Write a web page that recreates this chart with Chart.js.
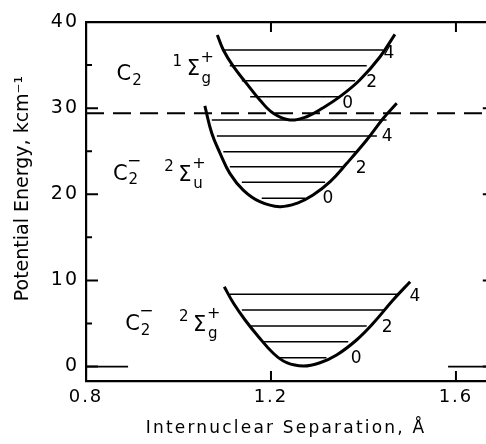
<!DOCTYPE html>
<html><head><meta charset="utf-8">
<script src="https://cdn.jsdelivr.net/npm/chart.js@4/dist/chart.umd.min.js"></script>
<style>html,body{margin:0;padding:0;background:#fff;}#wrap{width:486px;height:444px;}</style>
</head><body><div id="wrap"><canvas id="c" width="486" height="444"></canvas></div>
<script>
// ---------------- data ----------------
const xTicks = [0.8, 1.2, 1.6];
const xTickLabels = ['0.8', '1.2', '1.6'];
const yTicks = [0, 10, 20, 30, 40];
const yTickLabels = ['0', '10', '20', '30', '40'];
const yMinorTicks = [5, 15, 25, 35];
const xVisibleMax = 1.665;   // right edge of the picture
const xFrameMax = 1.684;     // right frame of the plot (just outside the picture)

// C2  X 1Σg+  potential curve (R in Å, E in kcm-1)
const c2R = [1.084, 1.097, 1.119, 1.147, 1.176, 1.205, 1.241, 1.277, 1.313, 1.349, 1.392, 1.436, 1.468];
const c2E = [38.49, 36.75, 34.81, 32.88, 30.94, 29.40, 28.62, 29.00, 30.05, 31.33, 33.27, 35.97, 38.57];
const c2LevelE    = [31.33, 33.18, 34.93, 36.75];
const c2LevelRmin = [1.155, 1.137, 1.111, 1.097];
const c2LevelRmax = [1.349, 1.382, 1.407, 1.443];
const c2ThresholdE = 29.4;   // v=0 of C2, dashed

// C2-  2Σu+  potential curve
const c2uR = [1.057, 1.072, 1.090, 1.111, 1.140, 1.176, 1.219, 1.256, 1.291, 1.328, 1.364, 1.407, 1.443, 1.472];
const c2uE = [30.25, 27.08, 24.76, 22.43, 20.49, 19.14, 18.56, 18.95, 19.91, 21.46, 23.59, 26.30, 28.82, 30.56];
const c2uLevelE    = [19.53, 21.39, 23.20, 24.94, 26.76, 28.62];
const c2uLevelRmin = [1.180, 1.137, 1.111, 1.097, 1.083, 1.072];
const c2uLevelRmax = [1.274, 1.317, 1.356, 1.385, 1.429, 1.450];

// C2-  2Σg+  potential curve
const c2gR = [1.099, 1.119, 1.144, 1.173, 1.205, 1.234, 1.270, 1.306, 1.342, 1.385, 1.421, 1.464, 1.501];
const c2gE = [9.27, 7.34, 5.40, 3.46, 1.54, 0.44, 0.06, 0.44, 1.34, 3.08, 5.02, 7.72, 9.85];
const c2gLevelE    = [1.02, 2.88, 4.71, 6.56, 8.38];
const c2gLevelRmin = [1.219, 1.183, 1.155, 1.137, 1.111];
const c2gLevelRmax = [1.320, 1.367, 1.407, 1.446, 1.479];

// zero-energy reference stubs
const zeroLeftR  = [0.800, 0.891];
const zeroRightR = [1.583, 1.684];
const zeroE = 0;

// text labels
const vibLabelText = ['4', '2', '0', '4', '2', '0', '4', '2', '0'];
const vibLabelR    = [1.455, 1.418, 1.366, 1.451, 1.395, 1.323, 1.511, 1.451, 1.384];
const vibLabelE    = [36.28, 32.92, 30.48, 26.65, 22.93, 19.45, 8.07, 4.47, 0.87];

const speciesSub  = ['2', '2', '2'];
const speciesSup  = ['', '\u2212', '\u2212'];
const speciesR    = [0.882, 0.874, 0.9005];
const speciesE    = [33.85, 22.29, 4.82];

const termMult = ['1', '2', '2'];
const termSub  = ['g', 'u', 'g'];
const termR    = [1.032, 1.014, 1.046];
const termE    = [34.43, 22.18, 4.76];

// ---------------- build datasets ----------------
const BLACK = '#000';
function curve(R, E) {
  return { data: R.map((r, i) => ({x: r, y: E[i]})), showLine: true, pointRadius: 0,
    borderColor: BLACK, borderWidth: 3, tension: 0.4, fill: false };
}
function levels(Ev, Rmin, Rmax) {
  return Ev.map((e, i) => ({ data: [{x: Rmin[i], y: e}, {x: Rmax[i], y: e}], showLine: true,
    pointRadius: 0, borderColor: BLACK, borderWidth: 1.5 }));
}
const datasets = [
  ...levels(c2LevelE, c2LevelRmin, c2LevelRmax),
  ...levels(c2uLevelE, c2uLevelRmin, c2uLevelRmax),
  ...levels(c2gLevelE, c2gLevelRmin, c2gLevelRmax),
  { data: [{x: xTicks[0], y: c2ThresholdE}, {x: xFrameMax, y: c2ThresholdE}], showLine: true,
    pointRadius: 0, borderColor: BLACK, borderWidth: 2, borderDash: [18, 9] },
  { data: zeroLeftR.map(r => ({x: r, y: zeroE})), showLine: true, pointRadius: 0, borderColor: BLACK, borderWidth: 1.7 },
  { data: zeroRightR.map(r => ({x: r, y: zeroE})), showLine: true, pointRadius: 0, borderColor: BLACK, borderWidth: 1.7 },
  curve(c2R, c2E), curve(c2uR, c2uE), curve(c2gR, c2gE)
];

// ---------------- plugins ----------------
function wrap(scale, method, px, dy) {
  const cur = scale[method];
  if (cur && cur._wrapped) return;
  const fn = function (...args) {
    const ctx = this.ctx; ctx.save(); ctx.letterSpacing = px + 'px';
    if (dy) ctx.translate(0, dy);
    const r = cur.apply(this, args); ctx.restore(); return r;
  };
  fn._wrapped = true;
  scale[method] = fn;
}
const spacingPlugin = {
  id: 'spacing',
  afterLayout(chart) {
    wrap(chart.scales.x, 'drawLabels', 2, 0);
    wrap(chart.scales.x, 'drawTitle', 2.2, 0);
    wrap(chart.scales.y, 'drawLabels', 2, 0);
    wrap(chart.scales.y, 'drawTitle', 0, -13);
  }
};

const inwardTicks = {
  id: 'inwardTicks',
  afterDraw(chart) {
    const {ctx, chartArea: a, scales: {x, y}} = chart;
    const right = x.getPixelForValue(xFrameMax);
    ctx.save(); ctx.strokeStyle = BLACK; ctx.lineWidth = 2; ctx.beginPath();
    yTicks.forEach(v => { const p = y.getPixelForValue(v);
      ctx.moveTo(a.left, p); ctx.lineTo(a.left + 12, p); ctx.moveTo(right, p); ctx.lineTo(right - 12, p); });
    yMinorTicks.forEach(v => { const p = y.getPixelForValue(v);
      ctx.moveTo(a.left, p); ctx.lineTo(a.left + 6, p); ctx.moveTo(right, p); ctx.lineTo(right - 6, p); });
    xTicks.forEach(v => { const p = x.getPixelForValue(v);
      ctx.moveTo(p, a.bottom); ctx.lineTo(p, a.bottom - 10); ctx.moveTo(p, a.top); ctx.lineTo(p, a.top + 10); });
    ctx.stroke(); ctx.restore();
  }
};

const FONT = '"DejaVu Sans", "Liberation Sans", sans-serif';
function txt(ctx, s, x, y, size) {
  ctx.font = size + 'px ' + FONT; ctx.fillText(s, x, y);
}
const textLabels = {
  id: 'textLabels',
  afterDatasetsDraw(chart) {
    const {ctx, scales: {x, y}} = chart;
    ctx.save(); ctx.fillStyle = BLACK; ctx.textAlign = 'center'; ctx.textBaseline = 'middle';
    ctx.letterSpacing = '0px';
    vibLabelText.forEach((t, i) => txt(ctx, t, x.getPixelForValue(vibLabelR[i]), y.getPixelForValue(vibLabelE[i]), 17));
    speciesR.forEach((r, i) => {
      const px = x.getPixelForValue(r), py = y.getPixelForValue(speciesE[i]);
      txt(ctx, 'C', px, py, 21);
      txt(ctx, speciesSub[i], px + 13, py + 6, 15);
      if (speciesSup[i]) txt(ctx, speciesSup[i], px + 14, py - 13, 17);
    });
    termR.forEach((r, i) => {
      const px = x.getPixelForValue(r), py = y.getPixelForValue(termE[i]);
      txt(ctx, '\u03A3', px, py, 21);
      txt(ctx, termMult[i], px - 16, py - 8, 15);
      txt(ctx, '+', px + 14, py - 12, 16);
      txt(ctx, termSub[i], px + 13, py + 9, 15);
    });
    ctx.restore();
  }
};

// ---------------- chart ----------------
new Chart(document.getElementById('c'), {
  type: 'scatter',
  data: { datasets },
  options: {
    responsive: false, animation: false, devicePixelRatio: window.devicePixelRatio || 1,
    layout: { padding: 0 },
    plugins: { legend: { display: false }, tooltip: { enabled: false } },
    scales: {
      x: {
        type: 'linear', position: 'bottom', min: 0.8, max: xVisibleMax,
        afterBuildTicks: s => { s.ticks = xTicks.map(v => ({value: v})); },
        afterFit: s => { s.height = 63; },
        grid: { display: false, drawTicks: false },
        border: { display: true, color: BLACK, width: 2.2 },
        ticks: { color: BLACK, padding: 6, font: { family: FONT, size: 18 },
          maxRotation: 0, autoSkip: false, callback: (v, i) => xTickLabels[i] },
        title: { display: true, text: 'Internuclear Separation, \u00C5', color: BLACK,
          font: { family: FONT, size: 17 }, padding: { top: 0, bottom: 5 } }
      },
      xTop: {
        type: 'linear', position: 'top', min: 0.8, max: xVisibleMax,
        afterFit: s => { s.height = 22; },
        grid: { display: false, drawTicks: false },
        border: { display: true, color: BLACK, width: 2.2 },
        ticks: { display: false }
      },
      y: {
        type: 'linear', position: 'left', min: -1.68, max: 40,
        afterBuildTicks: s => { s.ticks = yTicks.map(v => ({value: v})); },
        afterFit: s => { s.width = 86; },
        grid: { display: false, drawTicks: false },
        border: { display: true, color: BLACK, width: 2.2 },
        ticks: { color: BLACK, padding: 7, font: { family: FONT, size: 19 },
          autoSkip: false, callback: (v, i) => yTickLabels[i] },
        title: { display: true, text: 'Potential Energy, kcm\u207B\u00B9', color: BLACK,
          font: { family: FONT, size: 19 }, padding: { top: 12, bottom: 0 } }
      }
    }
  },
  plugins: [spacingPlugin, inwardTicks, textLabels]
});
</script></body></html>
